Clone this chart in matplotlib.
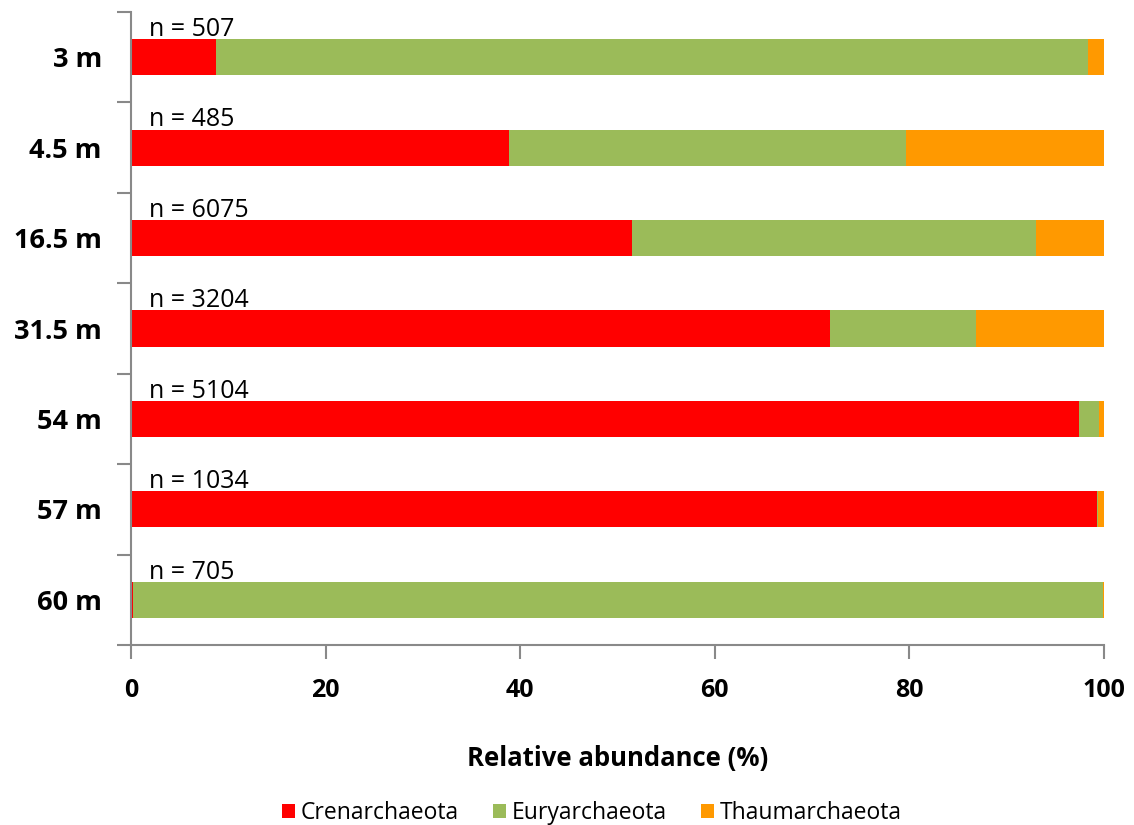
import matplotlib
matplotlib.use("Agg")
import matplotlib.pyplot as plt
import numpy as np

depths = ["3 m", "4.5 m", "16.5 m", "31.5 m", "54 m", "57 m", "60 m"]
n_seqs = [507, 485, 6075, 3204, 5104, 1034, 705]
crenarchaeota = [8.7, 38.8, 51.5, 71.8, 97.4, 99.3, 0.2]
euryarchaeota = [89.7, 40.8, 41.5, 15.0, 2.1, 0.1, 99.7]
thaumarchaeota = [1.6, 20.4, 7.0, 13.2, 0.5, 0.6, 0.1]

series = [("Crenarchaeota", crenarchaeota, "#ff0000"),
          ("Euryarchaeota", euryarchaeota, "#9bbb59"),
          ("Thaumarchaeota", thaumarchaeota, "#ff9900")]

plt.rcParams['font.family'] = ['Open Sans', 'DejaVu Sans']

fig = plt.figure(figsize=(11.34, 8.25), dpi=100)
ax = fig.add_axes([131 / 1134, 1 - 645 / 825, (1104 - 131) / 1134, (645 - 12) / 825])

y = np.arange(len(depths))
left = np.zeros(len(depths))
for name, vals, color in series:
    vals = np.array(vals)
    ax.barh(y, vals, left=left, height=0.4, color=color, label=name)
    left += vals

for yi, n in zip(y, n_seqs):
    ax.text(1.9, yi - 0.235, f"n = {n}", fontsize=18, ha="left", va="baseline")

ax.set_xlim(0, 100)
ax.set_ylim(len(depths) - 0.5, -0.5)

ax.set_yticks(y)
ax.set_yticklabels(depths, fontsize=19.5, fontweight="bold")
ax.tick_params(axis="y", which="major", length=0, pad=21)
ax.set_yticks(np.arange(-0.5, len(depths), 1.0), minor=True)
ax.tick_params(axis="y", which="minor", length=10, color="#898989", width=1.5)

ax.set_xticks([0, 20, 40, 60, 80, 100])
ax.set_xticklabels(["0", "20", "40", "60", "80", "100"], fontsize=18, fontweight="bold")
ax.tick_params(axis="x", length=10, color="#898989", width=1.5, pad=14)

for side in ["top", "right"]:
    ax.spines[side].set_visible(False)
for side in ["left", "bottom"]:
    ax.spines[side].set_color("#898989")
    ax.spines[side].set_linewidth(1.5)

ax.set_xlabel("Relative abundance (%)", fontsize=18.5, fontweight="bold", labelpad=30)

fig.legend(loc="lower center", bbox_to_anchor=(0.522, -0.025), ncol=3, frameon=False,
           fontsize=16.5, handlelength=0.57, handleheight=0.57, handletextpad=0.25,
           columnspacing=1.5)

fig.savefig("out.png", dpi=100)
